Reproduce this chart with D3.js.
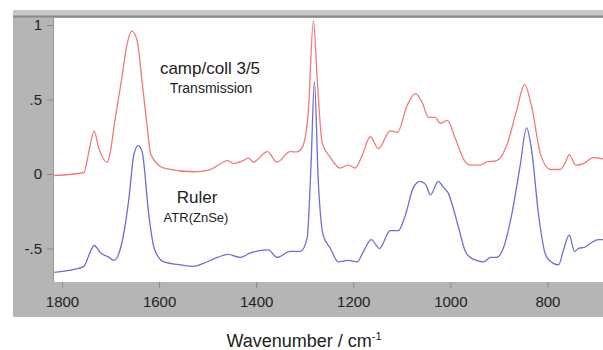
<!DOCTYPE html>
<html>
<head>
<meta charset="utf-8">
<script src="https://cdn.jsdelivr.net/npm/d3@7"></script>
<style>
  body { margin: 0; background: #fff; }
  text { font-family: "Liberation Sans", Arial, sans-serif; fill: #222; }
</style>
</head>
<body>
<div id="chart"></div>
<script>
// wavenumber (cm-1) and absorbance
const transWave = [1816, 1755, 1744, 1734, 1724, 1707, 1689, 1678, 1666, 1656, 1645, 1635, 1625, 1617, 1590, 1528, 1495, 1458, 1447, 1427, 1416, 1406, 1377, 1357, 1330, 1317, 1305, 1293, 1282, 1274, 1264, 1247, 1227, 1210, 1196, 1181, 1165, 1148, 1124, 1109, 1089, 1072, 1058, 1045, 1031, 1021, 1006, 990, 969, 959, 938, 926, 905, 884, 864, 847, 833, 814, 794, 773, 763, 755, 742, 726, 705, 685];
const transVal = [-0.01, 0.01, 0.16, 0.29, 0.17, 0.08, 0.40, 0.62, 0.87, 0.96, 0.89, 0.62, 0.33, 0.13, 0.04, 0.015, 0.03, 0.09, 0.07, 0.09, 0.107, 0.08, 0.15, 0.08, 0.15, 0.148, 0.18, 0.40, 1.03, 0.62, 0.21, 0.11, 0.04, 0.06, 0.04, 0.13, 0.25, 0.17, 0.29, 0.28, 0.46, 0.54, 0.48, 0.38, 0.38, 0.34, 0.36, 0.24, 0.08, 0.06, 0.06, 0.08, 0.09, 0.19, 0.42, 0.60, 0.46, 0.13, 0.03, 0.03, 0.08, 0.13, 0.06, 0.07, 0.11, 0.10];

const atrWave = [1816, 1775, 1755, 1744, 1734, 1720, 1703, 1693, 1678, 1662, 1652, 1643, 1635, 1621, 1610, 1590, 1555, 1528, 1509, 1480, 1458, 1433, 1412, 1375, 1357, 1330, 1309, 1295, 1287, 1280, 1272, 1262, 1247, 1231, 1210, 1192, 1179, 1163, 1146, 1124, 1107, 1093, 1076, 1062, 1051, 1041, 1025, 1014, 1004, 994, 983, 969, 959, 946, 932, 917, 905, 891, 874, 856, 843, 833, 818, 804, 788, 777, 767, 755, 744, 736, 722, 709, 695, 685];
const atrVal = [-0.66, -0.64, -0.62, -0.54, -0.48, -0.53, -0.56, -0.58, -0.48, -0.16, 0.13, 0.19, 0.15, -0.28, -0.50, -0.59, -0.61, -0.62, -0.60, -0.56, -0.54, -0.56, -0.53, -0.51, -0.56, -0.52, -0.52, -0.43, 0.06, 0.62, -0.05, -0.41, -0.50, -0.59, -0.58, -0.59, -0.52, -0.44, -0.50, -0.38, -0.38, -0.28, -0.09, -0.05, -0.07, -0.14, -0.05, -0.09, -0.13, -0.23, -0.36, -0.52, -0.56, -0.58, -0.59, -0.56, -0.56, -0.50, -0.28, 0.06, 0.31, 0.17, -0.28, -0.54, -0.60, -0.61, -0.51, -0.41, -0.52, -0.50, -0.49, -0.46, -0.44, -0.44];

const xTicks = [1800, 1600, 1400, 1200, 1000, 800];
const yTicks = [1, 0.5, 0, -0.5];
const yTickLabels = ['1', '.5', '0', '-.5'];

const width = 603;
const height = 350;
const plot = { left: 54, right: 603, top: 18, bottom: 282 };

const svg = d3.select('#chart')
    .append('svg')
    .attr('width', width)
    .attr('height', height);

// grey frame around the plot
svg.append('rect')
    .attr('x', 13).attr('y', 10)
    .attr('width', width - 13).attr('height', 307)
    .attr('fill', '#b5b5b5');

svg.append('rect')
    .attr('x', 13).attr('y', 10)
    .attr('width', width - 13).attr('height', 6)
    .attr('fill', '#c6c6c6');

svg.append('line')
    .attr('x1', 13).attr('x2', width)
    .attr('y1', 16.5).attr('y2', 16.5)
    .attr('stroke', '#8a8a8a').attr('stroke-width', 2);

svg.append('rect')
    .attr('x', plot.left).attr('y', plot.top)
    .attr('width', plot.right - plot.left).attr('height', plot.bottom - plot.top)
    .attr('fill', '#fff');

svg.append('line')
    .attr('x1', plot.left - 0.5).attr('x2', plot.left - 0.5)
    .attr('y1', plot.top).attr('y2', plot.bottom)
    .attr('stroke', '#999');

//scales
const xScale = d3.scaleLinear()
    .domain([1816.5, 685.5])
    .range([plot.left, plot.right]);

const yScale = d3.scaleLinear()
    .domain([-0.725, 1.047])
    .range([plot.bottom, plot.top]);

//axes
const xAxis = d3.axisBottom(xScale)
    .tickValues(xTicks)
    .tickSize(6)
    .tickPadding(8)
    .tickFormat(d3.format('d'));

const yAxis = d3.axisLeft(yScale)
    .tickValues(yTicks)
    .tickSize(7)
    .tickPadding(5)
    .tickFormat((d, i) => yTickLabels[i]);

const gx = svg.append('g')
    .attr('transform', 'translate(0,' + plot.bottom + ')')
    .call(xAxis);

const gy = svg.append('g')
    .attr('transform', 'translate(' + plot.left + ',0)')
    .call(yAxis);

[gx, gy].forEach(g => {
    g.select('.domain').remove();
    g.selectAll('.tick line').attr('stroke', '#8c8c8c');
    g.selectAll('.tick text')
        .attr('fill', '#333')
        .style('font-size', '15px')
        .style('font-family', '"Liberation Sans", Arial, sans-serif');
});

//spectra
svg.append('clipPath')
    .attr('id', 'plot-clip')
    .append('rect')
    .attr('x', plot.left).attr('y', plot.top)
    .attr('width', plot.right - plot.left).attr('height', plot.bottom - plot.top);

const line = d3.line()
    .x(d => xScale(d[0]))
    .y(d => yScale(d[1]))
    .curve(d3.curveMonotoneX);

const transData = transWave.map((w, i) => [w, transVal[i]]);
const atrData = atrWave.map((w, i) => [w, atrVal[i]]);

svg.append('path')
    .datum(transData)
    .attr('d', line)
    .attr('clip-path', 'url(#plot-clip)')
    .attr('fill', 'none')
    .attr('stroke', '#f27a7a')
    .attr('stroke-width', 1.3);

svg.append('path')
    .datum(atrData)
    .attr('d', line)
    .attr('clip-path', 'url(#plot-clip)')
    .attr('fill', 'none')
    .attr('stroke', '#6b6fcf')
    .attr('stroke-width', 1.3);

//labels
svg.append('text')
    .attr('x', 210).attr('y', 74)
    .attr('text-anchor', 'middle')
    .style('font-size', '17px')
    .text('camp/coll 3/5');

svg.append('text')
    .attr('x', 211).attr('y', 93)
    .attr('text-anchor', 'middle')
    .style('font-size', '14px')
    .text('Transmission');

svg.append('text')
    .attr('x', 197).attr('y', 203)
    .attr('text-anchor', 'middle')
    .style('font-size', '17px')
    .text('Ruler');

svg.append('text')
    .attr('x', 196).attr('y', 222)
    .attr('text-anchor', 'middle')
    .style('font-size', '13px')
    .text('ATR(ZnSe)');

const title = svg.append('text')
    .attr('x', 304).attr('y', 347)
    .attr('text-anchor', 'middle')
    .style('font-size', '18px');
title.append('tspan').text('Wavenumber / cm');
title.append('tspan')
    .attr('dy', -7)
    .style('font-size', '11px')
    .text('-1');
</script>
</body>
</html>
